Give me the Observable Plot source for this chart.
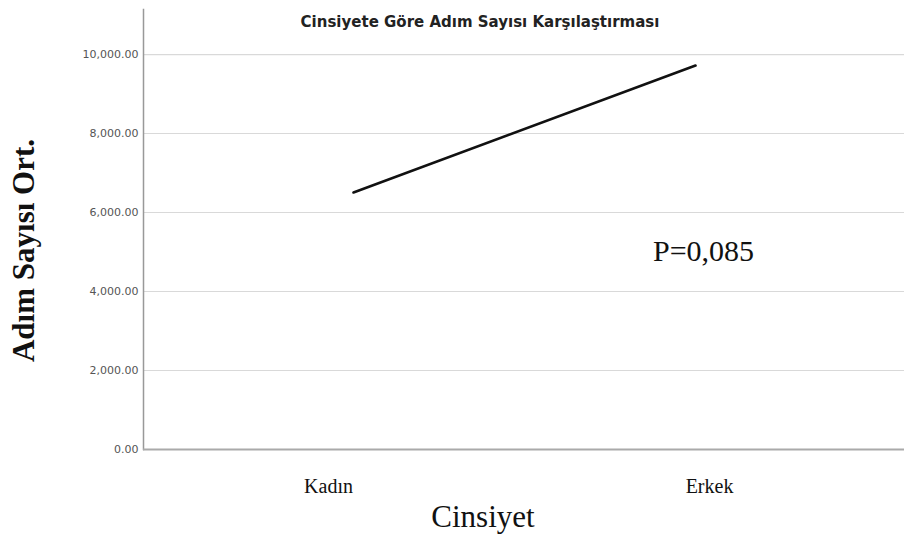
<!DOCTYPE html>
<html>
<head>
<meta charset="utf-8">
<script src="https://cdn.jsdelivr.net/npm/d3@7"></script>
<script src="https://cdn.jsdelivr.net/npm/@observablehq/plot@0.6"></script>
<style>
  html, body { margin: 0; padding: 0; background: #fff; }
  #chart { width: 904px; height: 534px; }
</style>
</head>
<body>
<div id="chart"></div>
<script>
// Data
const categories = ["Kadın", "Erkek"];
const means = [6506, 9722];
const yTicks = [0, 2000, 4000, 6000, 8000, 10000];
const title = "Cinsiyete Göre Adım Sayısı Karşılaştırması";
const yTitle = "Adım Sayısı Ort.";
const xTitle = "Cinsiyet";
const annotText = ["P=0,085"];
const annotX = ["Erkek"];
const annotY = [5025];

const data = categories.map((c, i) => ({cat: c, mean: means[i]}));
const annot = annotText.map((t, i) => ({t, x: annotX[i], y: annotY[i]}));

const serif = "'Liberation Serif', 'Times New Roman', serif";

const chart = Plot.plot({
  width: 904,
  height: 534,
  marginLeft: 143,
  marginRight: 0,
  marginTop: 9,
  marginBottom: 85,
  style: {background: "#fff", color: "#555", overflow: "visible"},
  x: {type: "point", domain: categories, padding: 0.61, axis: null},
  y: {domain: [0, 11140], axis: null},
  marks: [
    Plot.gridY(yTicks.filter(d => d > 0), {stroke: "#d9d9d9", strokeOpacity: 1, strokeWidth: 1.2}),
    Plot.axisY({ticks: yTicks, tickFormat: d3.format(",.2f"), tickSize: 0, tickPadding: 5,
      fontSize: 11, fontFamily: "DejaVu Sans", fill: "#555", label: null}),
    Plot.frame({anchor: "left", stroke: "#999", strokeWidth: 1.5}),
    Plot.ruleY([0], {stroke: "#aaa", strokeWidth: 2}),
    Plot.line(data, {x: "cat", y: "mean", stroke: "#111", strokeWidth: 2.6}),
    // x tick labels
    Plot.text(data.filter(d => d.cat === categories[0]), {x: "cat", text: "cat", frameAnchor: "bottom",
      dx: -25, dy: 43, fontSize: 20, fontFamily: serif, fill: "#111"}),
    Plot.text(data.filter(d => d.cat === categories[1]), {x: "cat", text: "cat", frameAnchor: "bottom",
      dx: 14, dy: 43, fontSize: 20, fontFamily: serif, fill: "#111"}),
    // annotation
    Plot.text(annot, {x: "x", y: "y", text: "t", dx: 8, fontSize: 30, fontFamily: serif, fill: "#111"}),
    // titles
    Plot.text([title], {frameAnchor: "top", dx: -44, dy: 7, fontSize: 15, fontWeight: "bold",
      fontFamily: "DejaVu Sans", fill: "#222"}),
    Plot.text([yTitle], {frameAnchor: "left", textAnchor: "middle", rotate: -90, dx: -119, dy: 21, fontSize: 31,
      fontWeight: "bold", fontFamily: serif, fill: "#111"}),
    Plot.text([xTitle], {frameAnchor: "bottom", dx: -41, dy: 77, fontSize: 31,
      fontFamily: serif, fill: "#111"})
  ]
});
document.getElementById("chart").appendChild(chart);
</script>
</body>
</html>
